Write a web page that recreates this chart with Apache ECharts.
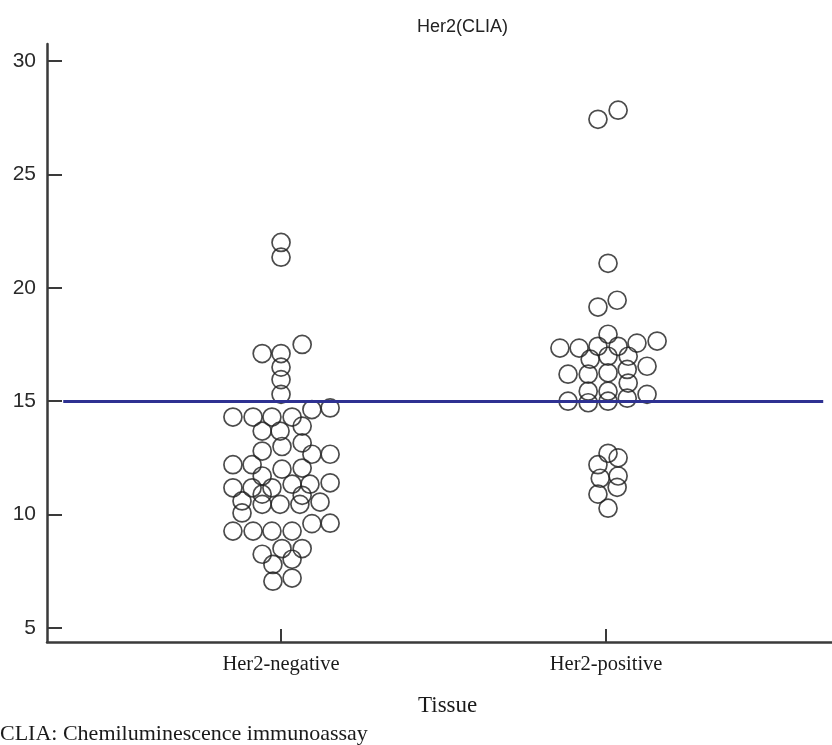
<!DOCTYPE html>
<html>
<head>
<meta charset="utf-8">
<script src="https://cdn.jsdelivr.net/npm/echarts@6/dist/echarts.min.js"></script>
<style>
html,body{margin:0;padding:0;background:#fff;}
#chart{width:832px;height:745px;}
</style>
</head>
<body>
<div id="chart"></div>
<script>
const categories = ['Her2-negative', 'Her2-positive'];
const yTicks = [5, 10, 15, 20, 25, 30];
const cutoff = 15;

// Her2-negative: horizontal spread (axis units, relative to category) and values
const negOffset = [0, 0, -0.058, 0, 0.065, 0, 0, 0,
  -0.148, -0.086, -0.028, 0.034, 0.095, 0.151,
  -0.058, -0.003, 0.065,
  -0.058, 0.003, 0.065, 0.095, 0.151,
  -0.148, -0.089, 0.003, 0.065, -0.058,
  -0.148, -0.089, -0.028, 0.034, 0.089, 0.151,
  -0.058, 0.065,
  -0.120, -0.058, -0.003, 0.058, 0.120,
  -0.120,
  -0.148, -0.086, -0.028, 0.034, 0.095, 0.151,
  -0.058, 0.003, 0.065, 0.034, -0.025, -0.025, 0.034];
const negValue = [22.0, 21.35, 17.1, 17.1, 17.5, 16.5, 15.95, 15.3,
  14.3, 14.3, 14.3, 14.3, 14.63, 14.7,
  13.68, 13.68, 13.9,
  12.8, 13.0, 13.16, 12.66, 12.66,
  12.2, 12.2, 12.0, 12.05, 11.7,
  11.18, 11.18, 11.18, 11.34, 11.34, 11.4,
  10.9, 10.85,
  10.6, 10.45, 10.45, 10.45, 10.55,
  10.07,
  9.27, 9.27, 9.27, 9.27, 9.6, 9.62,
  8.25, 8.5, 8.5, 8.03, 7.8, 7.06, 7.2];

// Her2-positive
const posOffset = [-0.025, 0.037, 0.006, 0.034, -0.025,
  0.006, -0.142, -0.083, -0.025, 0.037, 0.095, 0.157,
  -0.049, 0.006, 0.068,
  -0.117, -0.055, 0.006, 0.065, 0.126,
  -0.055, 0.006, 0.068,
  -0.117, -0.055, 0.006, 0.065, 0.126,
  0.006, 0.037, -0.025, 0.037, -0.018, 0.034, -0.025, 0.006];
const posValue = [27.43, 27.83, 21.08, 19.45, 19.15,
  17.95, 17.34, 17.34, 17.42, 17.42, 17.56, 17.65,
  16.85, 16.98, 16.98,
  16.19, 16.19, 16.25, 16.4, 16.54,
  15.44, 15.44, 15.8,
  15.0, 14.93, 15.0, 15.13, 15.3,
  12.7, 12.5, 12.2, 11.7, 11.6, 11.2, 10.9, 10.28];

const negData = negValue.map((v, i) => [1 + negOffset[i], v]);
const posData = posValue.map((v, i) => [2 + posOffset[i], v]);

const chart = echarts.init(document.getElementById('chart'), null, {renderer: 'canvas'});
const axisColor = '#3a3a3a';
const markerStyle = {color: 'rgba(255,255,255,0)', borderColor: '#1e1e1e', borderWidth: 1.7};

chart.setOption({
  animation: false,
  backgroundColor: '#fff',
  grid: {left: 47, right: 0, top: 44, bottom: 103},
  xAxis: {
    type: 'value', min: 0.28, max: 2.695,
    splitLine: {show: false},
    axisLine: {show: true, lineStyle: {color: axisColor, width: 2.5}},
    axisTick: {show: true, inside: true, length: 13, customValues: [1, 2], lineStyle: {color: axisColor, width: 2}},
    axisLabel: {
      customValues: [1, 2],
      formatter: v => categories[Math.round(v) - 1],
      fontFamily: 'Liberation Serif', fontSize: 20.5, color: '#1a1a1a', margin: 12
    }
  },
  yAxis: {
    type: 'value', min: 4.38, max: 30.75,
    splitLine: {show: false},
    axisLine: {show: true, lineStyle: {color: axisColor, width: 2.5}},
    axisTick: {show: true, inside: true, length: 15, customValues: yTicks, lineStyle: {color: axisColor, width: 2}},
    axisLabel: {
      customValues: yTicks,
      fontFamily: 'Liberation Sans', fontSize: 21, color: '#2a2a2a', margin: 11
    }
  },
  graphic: [
    {type: 'text', left: 417, top: 18, style: {text: 'Her2(CLIA)', font: '18px "Liberation Sans"', fill: '#222'}},
    {type: 'text', left: 418, top: 694, style: {text: 'Tissue', font: '23px "Liberation Serif"', fill: '#1a1a1a'}},
    {type: 'text', left: 0, top: 723, style: {text: 'CLIA: Chemiluminescence immunoassay', font: '22px "Liberation Serif"', fill: '#1a1a1a'}}
  ],
  series: [
    {
      name: categories[0], type: 'scatter', data: negData,
      symbol: 'circle', symbolSize: 18, itemStyle: markerStyle,
      markLine: {
        silent: true, symbol: ['none', 'none'], label: {show: false},
        lineStyle: {color: '#2e3192', width: 3, type: 'solid'},
        data: [[{coord: [0.33, cutoff]}, {coord: [2.668, cutoff]}]]
      }
    },
    {
      name: categories[1], type: 'scatter', data: posData,
      symbol: 'circle', symbolSize: 18, itemStyle: markerStyle
    }
  ]
});
</script>
</body>
</html>
